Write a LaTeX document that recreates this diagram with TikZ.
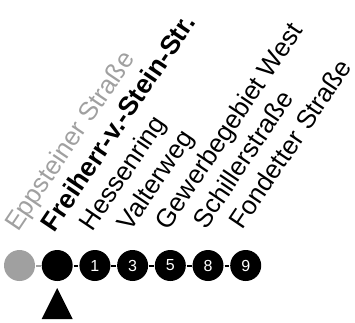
\documentclass[tikz,border=0pt]{standalone}
\usepackage{fontspec}
\setmainfont{Liberation Sans}
\definecolor{pastgray}{RGB}{160,160,160}
\tikzset{
  stop/.style={circle,fill=black,minimum size=31pt,inner sep=0pt,text=white,font=\fontsize{16}{18}\selectfont},
  paststop/.style={stop,fill=pastgray},
  stoplabel/.style={anchor=base west,inner sep=0pt,rotate=56,font=\fontsize{26}{30}\selectfont}
}
\begin{document}
\begin{tikzpicture}[x=1pt,y=-1pt,line width=2pt]
\path[use as bounding box] (0,0) rectangle (355,322);
% stops
\node[paststop] (s0) at (19.5,265.5) {};
\node[stop] (s1) at (57.2,265.5) {};
\node[stop] (s2) at (94.9,265.5) {1};
\node[stop] (s3) at (132.6,265.5) {3};
\node[stop] (s4) at (170.3,265.5) {5};
\node[stop] (s5) at (208.0,265.5) {8};
\node[stop] (s6) at (245.7,265.5) {9};
% line
\draw[pastgray] (s0) -- (s1);
\draw (s1) -- (s2) -- (s3) -- (s4) -- (s5) -- (s6);
% labels
\node[stoplabel,text=pastgray] (l0) at (17.5,233.5) {Eppsteiner Straße};
\node[stoplabel,font=\fontsize{26.5}{30}\selectfont\bfseries] (l1) at (54.2,234) {Freiherr-v.-Stein-Str.};
\node[stoplabel] (l2) at (92.4,233) {Hessenring};
\node[stoplabel] (l3) at (130.1,233) {Valterweg};
\node[stoplabel] (l4) at (167.8,232) {Gewerbegebiet West};
\node[stoplabel] (l5) at (205.5,231) {Schillerstraße};
\node[stoplabel] (l6) at (242.2,231) {Fondetter Straße};
% current position
\fill ([yshift=-6pt]s1.south) -- ++(15.5,31) -- ++(-31,0) -- cycle;
\end{tikzpicture}
\end{document}
